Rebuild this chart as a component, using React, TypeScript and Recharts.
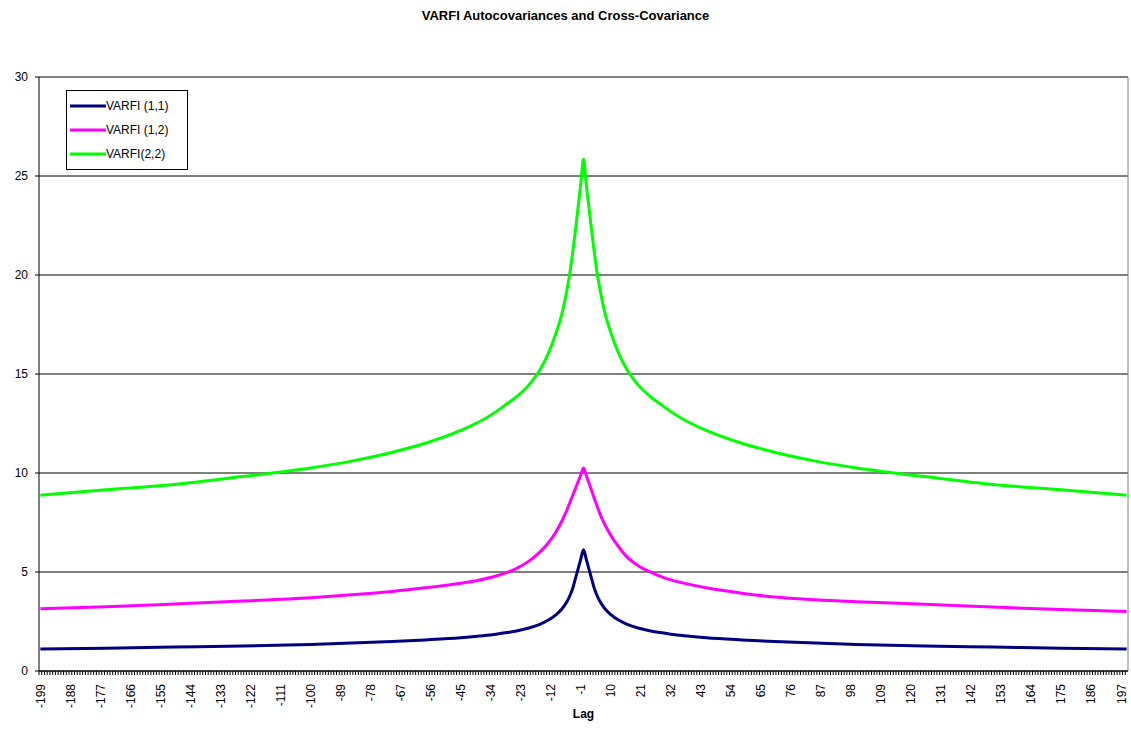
import React from 'react';
import { LineChart, Line, XAxis, YAxis, CartesianGrid, Legend, ReferenceLine } from 'recharts';

const lags = [-199, -175, -150, -125, -100, -85, -70, -58, -45, -38, -32, -28, -25, -20, -16, -13, -10, -8, -7, -6, -5, -4, -3, -2, -1,
  0, 1, 2, 3, 4, 5, 6, 7, 8, 10, 13, 16, 20, 25, 28, 32, 38, 45, 58, 70, 85, 100, 125, 150, 175, 199];

const varfi11 = [1.11, 1.15, 1.21, 1.26, 1.34, 1.41, 1.49, 1.57, 1.68, 1.77, 1.86, 1.94, 2.01, 2.17, 2.36, 2.56, 2.85, 3.12, 3.3, 3.52, 3.8, 4.15, 4.65, 5.15, 5.65,
  6.12, 5.65, 5.15, 4.65, 4.15, 3.8, 3.52, 3.3, 3.12, 2.85, 2.56, 2.36, 2.17, 2.01, 1.94, 1.86, 1.77, 1.68, 1.57, 1.49, 1.41, 1.34, 1.26, 1.21, 1.15, 1.11];

const varfi12 = [3.14, 3.24, 3.38, 3.53, 3.7, 3.85, 4.02, 4.2, 4.43, 4.6, 4.8, 4.98, 5.15, 5.55, 6.0, 6.45, 7.05, 7.55, 7.85, 8.15, 8.5, 8.85, 9.2, 9.55, 9.9,
  10.25, 9.88, 9.5, 9.1, 8.7, 8.32, 7.95, 7.62, 7.35, 6.85, 6.25, 5.75, 5.32, 4.97, 4.79, 4.6, 4.4, 4.2, 3.93, 3.74, 3.6, 3.5, 3.37, 3.23, 3.1, 3.0];

const varfi22 = [8.88, 9.15, 9.42, 9.82, 10.25, 10.6, 11.05, 11.5, 12.15, 12.6, 13.1, 13.5, 13.8, 14.45, 15.2, 16.0, 17.1, 18.0, 18.6, 19.3, 20.1, 21.1, 22.2, 23.4, 24.6,
  25.85, 24.6, 23.4, 22.2, 21.1, 20.1, 19.3, 18.6, 18.0, 17.1, 16.0, 15.2, 14.45, 13.8, 13.5, 13.1, 12.6, 12.15, 11.5, 11.05, 10.6, 10.25, 9.82, 9.42, 9.15, 8.88];

const xLabels = [-199, -188, -177, -166, -155, -144, -133, -122, -111, -100, -89, -78, -67, -56, -45, -34, -23, -12, -1,
  10, 21, 32, 43, 54, 65, 76, 87, 98, 109, 120, 131, 142, 153, 164, 175, 186, 197];

const yTicks = [0, 5, 10, 15, 20, 25, 30];

const seriesNames = ['VARFI (1,1)', 'VARFI (1,2)', 'VARFI(2,2)'];
const seriesColors = ['#000080', '#FF00FF', '#00FF00'];

const minorTicks = Array.from({ length: 399 }, (_, i) => i - 199);

const data = lags.map((lag, i) => ({
  lag,
  v11: varfi11[i],
  v12: varfi12[i],
  v22: varfi22[i],
}));

const FONT = '"Liberation Sans", Arial, sans-serif';

const XTick = (props: any) => {
  const { x, y, payload } = props;
  const v = payload.value;
  const show = xLabels.includes(v);
  return (
    <g transform={`translate(${x},${y})`}>
      <line x1={-1.36} x2={-1.36} y1={0} y2={4} stroke="#000" strokeWidth={1} />
      {show && (
        <text transform="rotate(-90)" x={-13} y={0} dy="0.36em" textAnchor="end" fontSize={12} fill="#000" fontFamily={FONT}>
          {v}
        </text>
      )}
    </g>
  );
};

const LegendBox = () => (
  <div style={{ border: '1px solid #000', background: '#fff', padding: '3px 6px 3px 3px', fontFamily: FONT, fontSize: 12, color: '#000', width: 122, boxSizing: 'border-box' as const }}>
    {seriesNames.map((n, i) => (
      <div key={n} style={{ display: 'flex', alignItems: 'center', height: 24 }}>
        <svg width={36} height={8}>
          <line x1={0} x2={36} y1={4} y2={4} stroke={seriesColors[i]} strokeWidth={3} />
        </svg>
        <span>{n}</span>
      </div>
    ))}
  </div>
);

export default function App() {
  return (
    <div style={{ position: 'absolute', left: 0, top: 0, width: 1131, height: 746, background: '#fff' }}>
      <div style={{ position: 'absolute', left: 0, top: 8, width: 1131, textAlign: 'center', fontFamily: FONT, fontWeight: 'bold', fontSize: 13, color: '#000' }}>
        VARFI Autocovariances and Cross-Covariance
      </div>
      <LineChart width={1131} height={746} data={data} margin={{ top: 77, right: 3, bottom: 0, left: 0 }}>
        <CartesianGrid horizontal={true} vertical={false} stroke="#000" strokeOpacity={1} />
        <XAxis
          dataKey="lag"
          type="number"
          domain={[-199.5, 199.5]}
          ticks={minorTicks}
          interval={0}
          height={75}
          tickSize={0}
          tickMargin={0}
          tick={<XTick />}
          axisLine={{ stroke: '#000' }}
          allowDataOverflow
        />
        <YAxis
          domain={[0, 30]}
          ticks={yTicks}
          width={39}
          tickSize={4}
          tickMargin={7}
          tickLine={{ stroke: '#000' }}
          axisLine={{ stroke: '#000' }}
          tick={{ fontSize: 12, fill: '#000', fontFamily: FONT }}
          interval={0}
        />
        <ReferenceLine x={199.5} stroke="#808080" ifOverflow="visible" />
        <Legend
          layout="vertical"
          verticalAlign="middle"
          align="center"
          content={<LegendBox />}
          wrapperStyle={{ left: 66, top: 90, width: 122, height: 81 }}
        />
        <Line type="monotone" dataKey="v11" name={seriesNames[0]} stroke={seriesColors[0]} strokeWidth={3} dot={false} isAnimationActive={false} />
        <Line type="monotone" dataKey="v12" name={seriesNames[1]} stroke={seriesColors[1]} strokeWidth={3} dot={false} isAnimationActive={false} />
        <Line type="monotone" dataKey="v22" name={seriesNames[2]} stroke={seriesColors[2]} strokeWidth={3} dot={false} isAnimationActive={false} />
      </LineChart>
      <div style={{ position: 'absolute', left: 0, top: 707, width: 1167, textAlign: 'center', fontFamily: FONT, fontWeight: 'bold', fontSize: 12, color: '#000' }}>
        Lag
      </div>
    </div>
  );
}
